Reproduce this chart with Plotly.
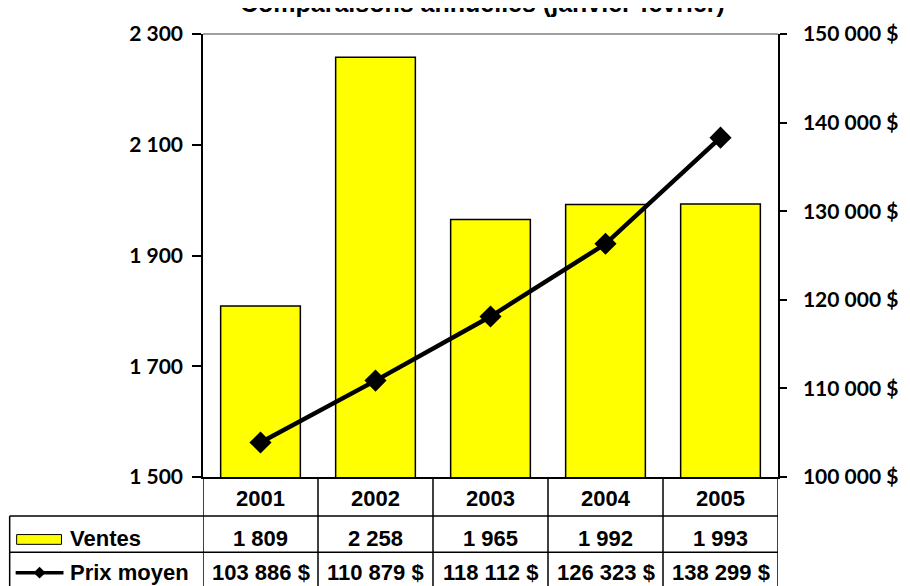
import plotly.graph_objects as go

# ---------------- data ----------------
years = ["2001", "2002", "2003", "2004", "2005"]
ventes = [1809, 2258, 1965, 1992, 1993]
prix_moyen = [103886, 110879, 118112, 126323, 138299]
series_names = ["Ventes", "Prix moyen"]
left_tickvals = [1500, 1700, 1900, 2100, 2300]
right_tickvals = [100000, 110000, 120000, 130000, 140000, 150000]
title_text = "Comparaisons annuelles (janvier-février)"


def fr(n):
    return f"{n:,}".replace(",", " ")


left_ticktext = [fr(v) for v in left_tickvals]
right_ticktext = [fr(v) + " $" for v in right_tickvals]
ventes_labels = [fr(v) for v in ventes]
prix_labels = [fr(v) + " $" for v in prix_moyen]

# ---------------- geometry (screen pixels) ----------------
OFF = 8                      # page body margin
W, H = 910 - OFF, 586 - OFF
L, R, T, B = 203, 780, 23, 477
ROW1, ROW2, TBOT = 517, 554, 620
TLEFT = 9


def py(p):
    return (B - p) / (B - T)


def px(p):
    return (p - L) / (R - L)


BOLD_AX = dict(family="Lato", size=21, color="black", weight="bold")
TBL = dict(family="Liberation Sans, Arial", size=22, color="black", weight="bold")

fig = go.Figure()
fig.add_trace(go.Bar(
    x=years, y=ventes, name=series_names[0],
    marker=dict(color="#FFFF00", line=dict(color="black", width=1.5)),
    yaxis="y", hoverinfo="skip",
))
fig.add_trace(go.Scatter(
    x=years, y=prix_moyen, name=series_names[1], mode="lines+markers",
    line=dict(color="black", width=4.5),
    marker=dict(symbol="diamond", size=17, color="black"),
    yaxis="y2", hoverinfo="skip",
))

shapes = []
for i in range(len(years) + 1):
    shapes.append(dict(type="line", xref="x", yref="paper",
                       x0=i - 0.5, x1=i - 0.5, y0=py(TBOT), y1=0,
                       line=dict(color="black", width=1.5)))
shapes.append(dict(type="line", xref="paper", yref="paper",
                   x0=px(TLEFT), x1=px(TLEFT), y0=py(TBOT), y1=py(ROW1),
                   line=dict(color="black", width=1.5)))
for r in (ROW1, ROW2):
    shapes.append(dict(type="line", xref="paper", yref="paper",
                       x0=px(TLEFT), x1=1, y0=py(r), y1=py(r),
                       line=dict(color="black", width=1.5)))
shapes.append(dict(type="line", xref="paper", yref="paper",
                   x0=0, x1=1, y0=1, y1=1,
                   line=dict(color="#A0A0A0", width=2)))
shapes.append(dict(type="rect", xref="paper", yref="paper",
                   x0=px(16), x1=px(61), y0=py(546), y1=py(536),
                   fillcolor="#FFFF00", line=dict(color="black", width=1)))
shapes.append(dict(type="line", xref="paper", yref="paper",
                   x0=px(15), x1=px(63), y0=py(575), y1=py(575),
                   line=dict(color="black", width=3.5)))
cx, cy, hw, hh = 39, 575, 6, 6
shapes.append(dict(type="path", xref="paper", yref="paper",
                   path=(f"M {px(cx-hw)},{py(cy)} L {px(cx)},{py(cy-hh)} "
                         f"L {px(cx+hw)},{py(cy)} L {px(cx)},{py(cy+hh)} Z"),
                   fillcolor="black", line=dict(color="black", width=0)))

ann = []
for i, yr in enumerate(years):
    ann.append(dict(x=i, xref="x", y=py(499), yref="paper", text=yr,
                    showarrow=False, font=TBL, xanchor="center", yanchor="middle"))
    ann.append(dict(x=i, xref="x", y=py(540), yref="paper", text=ventes_labels[i],
                    showarrow=False, font=TBL, xanchor="center", yanchor="middle"))
    ann.append(dict(x=i, xref="x", y=py(575), yref="paper", text=prix_labels[i],
                    showarrow=False, font=TBL, xanchor="center", yanchor="middle"))
ann.append(dict(x=px(68), xref="paper", y=py(540), yref="paper", text=series_names[0],
                showarrow=False, font=TBL, xanchor="left", yanchor="middle"))
ann.append(dict(x=px(68), xref="paper", y=py(575), yref="paper", text=series_names[1],
                showarrow=False, font=TBL, xanchor="left", yanchor="middle"))
ann.append(dict(x=px(483), xref="paper", y=py(8), yref="paper", text=title_text,
                showarrow=False,
                font=dict(family="Liberation Sans, Arial", size=25, color="black", weight="bold"),
                xanchor="center", yanchor="bottom"))

left_range = [left_tickvals[0], left_tickvals[-1]]
right_range = [right_tickvals[0], right_tickvals[-1]]

fig.update_layout(
    width=W, height=H,
    margin=dict(l=L - OFF, r=910 - R, t=T - OFF, b=586 - B, pad=0),
    paper_bgcolor="white", plot_bgcolor="white",
    showlegend=False, bargap=0.307,
    shapes=shapes, annotations=ann,
    xaxis=dict(type="category", range=[-0.5, len(years) - 0.5],
               showticklabels=False, ticks="", showgrid=False, zeroline=False,
               showline=True, linecolor="black", linewidth=1.5),
    yaxis=dict(range=left_range, tickvals=left_tickvals, ticktext=left_ticktext,
               ticks="outside", ticklen=9, tickwidth=1.5, tickcolor="black",
               showline=True, linecolor="black", linewidth=1.5,
               showgrid=False, zeroline=False, tickfont=BOLD_AX,
               ticklabelstandoff=5),
    yaxis2=dict(range=right_range, tickvals=right_tickvals, ticktext=right_ticktext,
                overlaying="y", side="right",
                ticks="outside", ticklen=7, tickwidth=1.5, tickcolor="black",
                showline=True, linecolor="black", linewidth=1.5,
                showgrid=False, zeroline=False, tickfont=BOLD_AX,
                ticklabelstandoff=12),
    yaxis3=dict(range=left_range, tickvals=left_tickvals, overlaying="y", side="left",
                ticks="inside", ticklen=9, tickwidth=1.5, tickcolor="black",
                showticklabels=False, showline=False, showgrid=False, zeroline=False),
    yaxis4=dict(range=right_range, tickvals=right_tickvals, overlaying="y", side="right",
                ticks="inside", ticklen=7, tickwidth=1.5, tickcolor="black",
                showticklabels=False, showline=False, showgrid=False, zeroline=False),
)

fig.write_html("out.html")
